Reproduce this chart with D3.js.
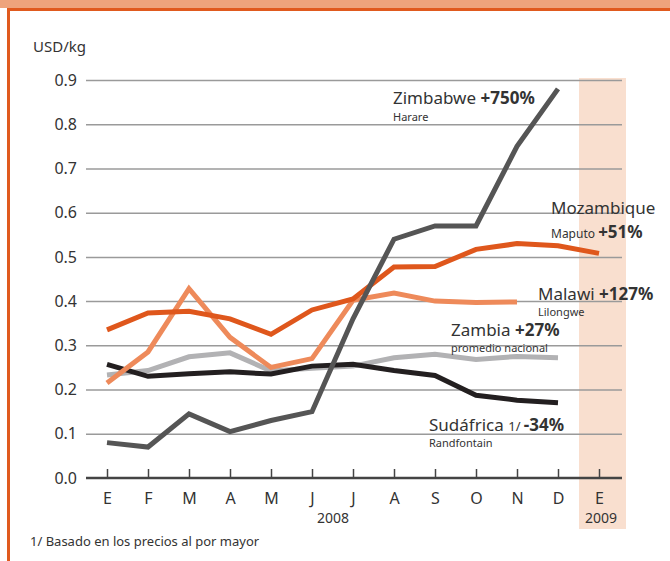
<!DOCTYPE html>
<head>
  <meta charset="utf-8">
  <title>Precios del maíz</title>
  <script src="https://cdn.jsdelivr.net/npm/d3@7"></script>
</head>
<style>
  body { margin: 0; background: #fff; }
  svg text { font-family: "Noto Sans", "Open Sans", sans-serif; fill: #333; }
</style>
<body>
<script>
  var width = 670, height = 561;

  var months = ["E","F","M","A","M","J","J","A","S","O","N","D","E"];
  var ticks = [0, 0.1, 0.2, 0.3, 0.4, 0.5, 0.6, 0.7, 0.8, 0.9];

  // valores (USD/kg)
  var zimbabwe = [0.08, 0.07, 0.145, 0.105, 0.13, 0.15, 0.36, 0.54, 0.57, 0.57, 0.75, 0.88];
  var mozambique = [0.335, 0.373, 0.377, 0.36, 0.325, 0.38, 0.405, 0.477, 0.478, 0.517, 0.53, 0.525, 0.508];
  var malawi = [0.215, 0.285, 0.428, 0.318, 0.25, 0.27, 0.402, 0.418, 0.4, 0.397, 0.398];
  var zambia = [0.233, 0.243, 0.274, 0.283, 0.242, 0.248, 0.253, 0.272, 0.28, 0.268, 0.275, 0.272];
  var sudafrica = [0.257, 0.23, 0.236, 0.24, 0.235, 0.253, 0.257, 0.243, 0.232, 0.187, 0.176, 0.17];

  var svg = d3.select("body").append("svg")
    .attr("width", width)
    .attr("height", height);

  // marco naranja
  svg.append("rect").attr("x", 0).attr("y", 0).attr("width", width).attr("height", 8).attr("fill", "#eea47c");
  svg.append("rect").attr("x", 7).attr("y", 8).attr("width", width - 7).attr("height", 3).attr("fill", "#e05a1e");
  svg.append("rect").attr("x", 7).attr("y", 8).attr("width", 3).attr("height", height).attr("fill", "#e05a1e");

  var xScale = d3.scalePoint()
    .domain(d3.range(months.length))
    .range([107, 599]);

  var yScale = d3.scaleLinear()
    .domain([0, 0.9])
    .range([478, 80]);

  // columna 2009
  svg.append("rect")
    .attr("x", xScale(12) - 20)
    .attr("y", yScale(0.9) - 2)
    .attr("width", 47)
    .attr("height", 531 - yScale(0.9))
    .attr("fill", "#f9dfcf");

  // grilla
  var yAxis = d3.axisLeft(yScale)
    .tickValues(ticks)
    .tickSize(-536)
    .tickPadding(9)
    .tickFormat(d3.format(".1f"));

  var gy = svg.append("g")
    .attr("transform", "translate(86,0)")
    .call(yAxis);
  gy.select(".domain").remove();
  gy.selectAll("line").attr("stroke", "#9a9a9a").attr("stroke-width", 1.5);
  gy.selectAll("text").style("font-size", "16px").attr("fill", "#333");
  gy.selectAll(".tick").filter(function(d) { return d === 0; }).select("line").remove();

  var xAxis = d3.axisBottom(xScale)
    .tickSize(-9)
    .tickPadding(15)
    .tickFormat(function(i) { return months[i]; });

  var gx = svg.append("g")
    .attr("transform", "translate(0,478)")
    .call(xAxis);
  gx.select(".domain").attr("d", "M86,0H622").attr("stroke", "#444").attr("stroke-width", 2.5);
  gx.selectAll("line").attr("stroke", "#444").attr("stroke-width", 1.5);
  gx.selectAll("text").style("font-size", "16px").attr("fill", "#333");

  svg.append("text").attr("x", 333).attr("y", 523).attr("text-anchor", "middle").style("font-size", "14px").text("2008");
  svg.append("text").attr("x", xScale(12) + 2).attr("y", 523).attr("text-anchor", "middle").style("font-size", "14px").text("2009");

  svg.append("text").attr("x", 33).attr("y", 52).style("font-size", "15px").text("USD/kg");

  var line = d3.line()
    .x(function(d, i) { return xScale(i); })
    .y(function(d) { return yScale(d); });

  var series = [
    { v: zambia, c: "#b2b2b4" },
    { v: sudafrica, c: "#231f20" },
    { v: malawi, c: "#ee8a5a" },
    { v: mozambique, c: "#df571c" },
    { v: zimbabwe, c: "#555555" }
  ];

  svg.selectAll(".serie")
    .data(series)
    .enter()
    .append("path")
    .attr("class", "serie")
    .attr("fill", "none")
    .attr("stroke", function(d) { return d.c; })
    .attr("stroke-width", 5)
    .attr("stroke-linejoin", "miter")
    .attr("d", function(d) { return line(d.v); });

  // etiquetas
  function label(x, y, parts, sub, subDy) {
    var t = svg.append("text").attr("x", x).attr("y", y).style("font-size", "17px");
    parts.forEach(function(p) {
      t.append("tspan").style("font-weight", p[1] ? "bold" : "normal").style("font-size", p[2] || "17px").text(p[0]);
    });
    if (sub) {
      svg.append("text").attr("x", x).attr("y", y + subDy).style("font-size", "11px").text(sub);
    }
  }

  label(393, 104, [["Zimbabwe "], ["+750%", true]], "Harare", 17);
  label(551, 214, [["Mozambique"]], null);
  svg.append("text").attr("x", 551).attr("y", 238).style("font-size", "17px")
    .call(function(t) {
      t.append("tspan").style("font-size", "12px").text("Maputo ");
      t.append("tspan").style("font-weight", "bold").text("+51%");
    });
  label(538, 300, [["Malawi "], ["+127%", true]], "Lilongwe", 16);
  label(451, 336, [["Zambia "], ["+27%", true]], "promedio nacional", 16);
  label(429, 431, [["Sudáfrica "], ["1/  ", false, "13px"], ["-34%", true]], "Randfontain", 16);

  svg.append("text").attr("x", 30).attr("y", 546).style("font-size", "13px").text("1/ Basado en los precios al por mayor");
</script>
</body>
